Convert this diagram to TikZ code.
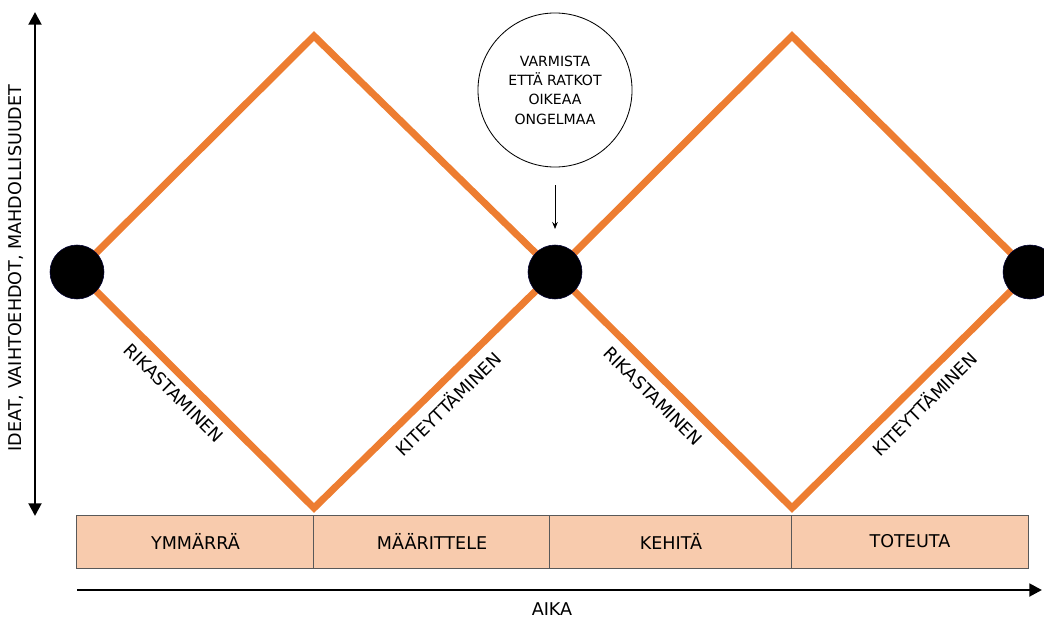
\documentclass[tikz,border=0pt]{standalone}
\usepackage{fontspec}
\setmainfont{DejaVu Sans}
\usetikzlibrary{arrows.meta}
\definecolor{tuplaorange}{HTML}{ED7D31}
\definecolor{vaihepeach}{HTML}{F8CBAD}
\definecolor{reunagray}{HTML}{595959}
\begin{document}
\begin{tikzpicture}[x=0.025cm, y=0.025cm]
\tikzstyle{every node}+=[font=\fontsize{12.5}{15}\selectfont]
\tikzstyle{diamondline}=[tuplaorange, line width=5pt]
\tikzstyle{dot}=[circle, fill=black, draw=black!80!blue, line width=0.4pt, minimum size=1.35cm, inner sep=0pt]
\tikzstyle{vaihe}=[draw=reunagray, fill=vaihepeach, line width=0.7pt, minimum height=1.325cm, inner sep=0pt]
\tikzstyle{axis}=[black, line width=2pt]
\useasboundingbox (0,0) rectangle (1044,-618);
% corners of the two diamonds
\coordinate (d1) at (77,-272);
\coordinate (t1) at (314,-36);
\coordinate (b1) at (314,-508);
\coordinate (d2) at (555,-272);
\coordinate (t2) at (792,-36);
\coordinate (b2) at (792,-508);
\coordinate (d3) at (1030,-272);
\draw [diamondline] (d1) -- (t1) -- (d2) -- (b1) -- cycle;
\draw [diamondline] (d2) -- (t2) -- (d3) -- (b2) -- cycle;
\path (d1) -- node[sloped, below=4pt, pos=0.46] {RIKASTAMINEN} (b1);
\path (b1) -- node[sloped, below=4pt, pos=0.5] {KITEYTTÄMINEN} (d2);
\path (d2) -- node[sloped, below=5pt, pos=0.47] {RIKASTAMINEN} (b2);
\path (b2) -- node[sloped, below=4pt, pos=0.5] {KITEYTTÄMINEN} (d3);
\node [dot] (dot1) at (d1) {};
\node [dot] (dot2) at (d2) {};
\node [dot] (dot3) at (d3) {};
% callout
\node [circle, draw=black, line width=0.6pt, minimum size=3.85cm, align=center,
  font=\fontsize{10}{13.8}\selectfont] (note) at (555,-90) {VARMISTA\\ETTÄ RATKOT\\OIKEAA\\ONGELMAA};
\coordinate (notearrow) at (555,-185);
\coordinate (notetip) at (555,-229);
\draw [-{Stealth[length=5pt,width=4pt]}, line width=0.6pt] (notearrow) -- (notetip);
% phases
\node [vaihe, minimum width=5.925cm] (ymmarra) at (195.5,-541.5) {YMMÄRRÄ};
\node [vaihe, minimum width=5.9cm] (maarittele) at (432,-541.5) {MÄÄRITTELE};
\node [vaihe, minimum width=6.05cm] (kehita) at (671,-541.5) {KEHITÄ};
\node [vaihe, minimum width=5.9cm] (toteuta) at (910,-541.5) {TOTEUTA};
% axes
\coordinate (ybot) at (35,-516);
\coordinate (ytop) at (35,-12);
\draw [axis, {Triangle[length=9pt,width=9pt]}-{Triangle[length=9pt,width=9pt]}] (ybot) -- (ytop);
\node [rotate=90] (ylabel) at (16,-268) {IDEAT, VAIHTOEHDOT, MAHDOLLISUUDET};
\coordinate (xstart) at (77,-590);
\coordinate (xend) at (1042,-590);
\draw [axis, -{Triangle[length=9pt,width=9pt]}] (xstart) -- (xend);
\node (xlabel) at (552,-609) {AIKA};
\end{tikzpicture}
\end{document}
